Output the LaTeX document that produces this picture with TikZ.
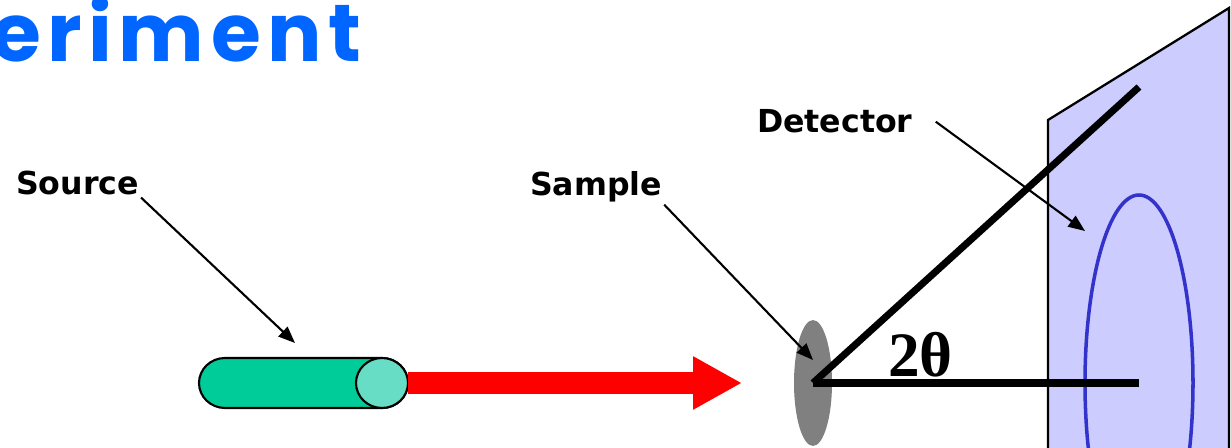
\documentclass[tikz,border=0pt]{standalone}
\usepackage{fontspec}
\usetikzlibrary{positioning}
\usetikzlibrary{arrows.meta}
\usetikzlibrary{shapes.geometric}
\setmainfont{Liberation Serif}
\newfontfamily\labelfont{DejaVu Sans}
\newfontfamily\titlefont[LetterSpace=8]{Poppins}
\definecolor{titleblue}{RGB}{0,102,255}
\definecolor{srcgreen}{RGB}{0,204,153}
\definecolor{srcend}{RGB}{102,221,196}
\definecolor{platecol}{RGB}{204,204,255}
\definecolor{ringblue}{RGB}{51,51,204}
\definecolor{beamred}{RGB}{255,0,0}
\definecolor{samplegray}{RGB}{128,128,128}

\tikzset{
  lbl/.style={font=\labelfont\bfseries\fontsize{18}{22}\selectfont, inner sep=1pt},
  pointer/.style={-{Triangle[length=9.5pt,width=7.5pt]}, line width=1.2pt},
  ray/.style={line width=4pt},
  beam/.style={draw=beamred, line width=13pt, -{Triangle[length=27.8pt,width=28.3pt]}},
}

\begin{document}
\begin{tikzpicture}[x=0.02cm, y=-0.02cm]
        \useasboundingbox (0,0) rectangle (1231,448);

        % title (cut at the left) %
        \node[font=\titlefont\bfseries\fontsize{46}{50}\selectfont, text=titleblue,
              anchor=base west, inner sep=0] (title) at (-9,62) {eriment};

        % detector plate and ring %
        \filldraw[fill=platecol, line width=1.3pt] (1048,470) -- (1048,120) -- (1229,8) -- (1229,470);
        \draw[ringblue, line width=2pt] (1139,383) ellipse [x radius=54, y radius=188];

        % source tube %
        \filldraw[fill=srcgreen, line width=1.2pt] (382,358) -- (225,358)
            arc[start angle=270, end angle=90, x radius=26, y radius=25] -- (382,408)
            arc[start angle=90, end angle=-90, x radius=26, y radius=25] -- cycle;
        \filldraw[fill=srcend, line width=1.2pt] (382,383) ellipse [x radius=26, y radius=25];
        \coordinate (source) at (408,383);

        % nodes %
        \node[ellipse, fill=samplegray, inner sep=0,
              minimum width=0.76cm, minimum height=2.52cm] (sample) at (813,383) {};
        \node[lbl, anchor=base west] (srclabel) at (14,195) {Source};
        \node[lbl, anchor=base west] (smplabel) at (528,196) {Sample};
        \node[lbl, anchor=base west] (detlabel) at (755,133) {Detector};
        \node[font=\bfseries\fontsize{36}{40}\selectfont, anchor=base west, inner sep=0] (angle) at (888,377) {2θ};

        \coordinate (srctip) at (295,343);
        \coordinate (smptip) at (813,360);
        \coordinate (dettip) at (1085,231);
        \coordinate (beamtip) at (742,383);
        \coordinate (rayend) at (1139,87);
        \coordinate (axisend) at (1139,383);

        % edges %
        \draw[beam] (source) -- (beamtip);
        \draw[ray] (sample.center) -- (rayend);
        \draw[ray] (sample.center) -- (axisend);
        \draw[pointer] (srclabel.south east) -- (srctip);
        \draw[pointer] (smplabel.south east) -- (smptip);
        \draw[pointer] ([xshift=12]detlabel.east) -- (dettip);
\end{tikzpicture}
\end{document}
